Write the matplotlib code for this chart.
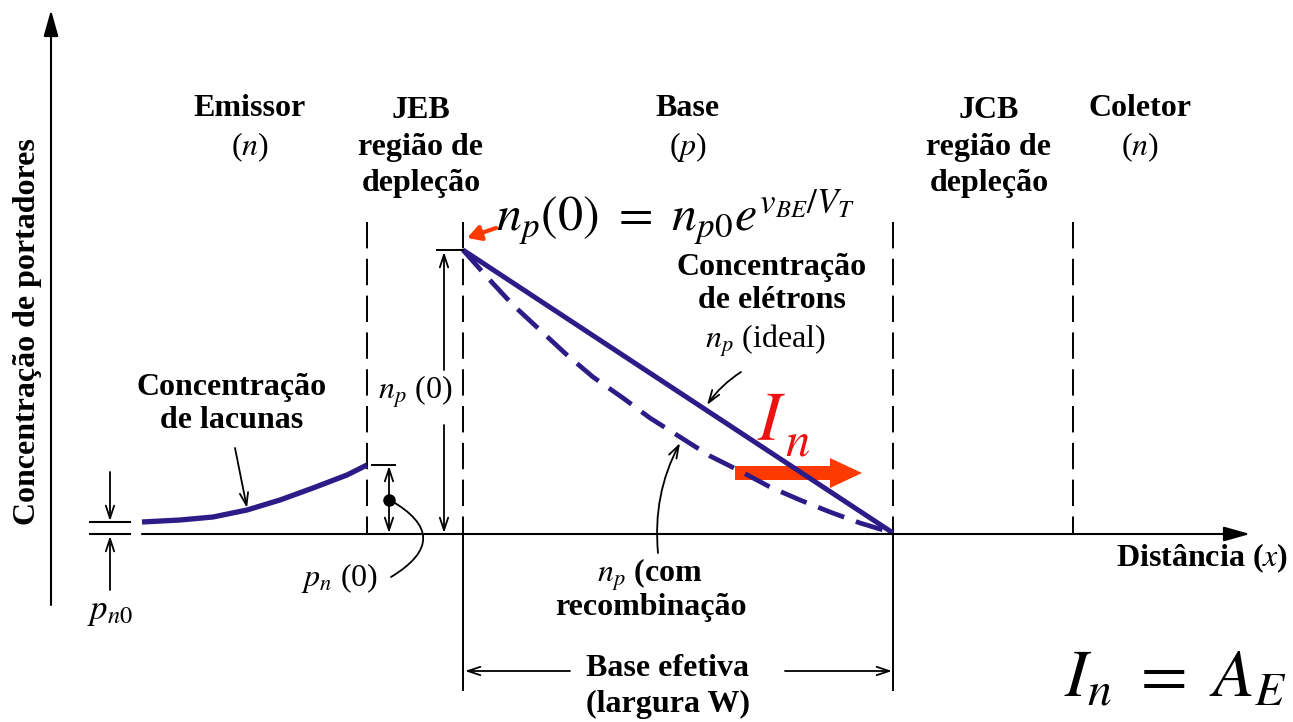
import numpy as np
import matplotlib.pyplot as plt

plt.rcParams['font.family'] = ['Liberation Serif', 'DejaVu Serif']
plt.rcParams['mathtext.fontset'] = 'stix'
plt.rcParams['lines.scale_dashes'] = False

# Carrier profiles (x in px along the device, y in px, top = 0)
hole_x = [142, 180, 213, 247, 280, 313, 347, 367]
hole_y = [522, 520, 517, 510, 500, 488, 475, 465]

ideal_x = [463, 893]
ideal_y = [250, 533]

recomb_x = [463, 487, 513, 540, 567, 593, 623, 650, 680, 710, 740, 770, 800,
            830, 860, 893]
recomb_y = [250, 277, 305, 330, 355, 377, 398, 418, 437, 456, 471, 487, 500,
            512, 523, 533]

# Region boundaries
jeb_left, jeb_right = 367, 463
jcb_left, jcb_right = 893, 1073
axis_y = 534
top_y = 222

navy = '#2d1b87'
red = '#ff3a00'

fig = plt.figure(figsize=(12.93, 7.22), dpi=100)
ax = fig.add_axes([0, 0, 1, 1])
ax.set_xlim(0, 1293)
ax.set_ylim(722, 0)
ax.axis('off')

# axes
ax.annotate('', xy=(51, 10), xytext=(51, 605),
            arrowprops=dict(arrowstyle='-|>,head_length=1.6,head_width=0.45',
                            color='black', lw=1.5, shrinkA=0, shrinkB=0))
ax.annotate('', xy=(1250, axis_y), xytext=(142, axis_y),
            arrowprops=dict(arrowstyle='-|>,head_length=1.6,head_width=0.45',
                            color='black', lw=1.5, shrinkA=0, shrinkB=0))
ax.plot([90, 130], [axis_y, axis_y], color='black', lw=1.5)
ax.plot([90, 130], [hole_y[0], hole_y[0]], color='black', lw=1.5)

# boundaries: dashed above the axis, solid below for the base edges
dash = (0, (19, 7.5))
for xb in [jeb_left, jeb_right, jcb_left, jcb_right]:
    ax.plot([xb, xb], [top_y, axis_y], color='black', lw=1.4, linestyle=dash)
for xb in [jeb_right, jcb_left]:
    ax.plot([xb, xb], [axis_y, 690], color='black', lw=1.4)

# carrier curves
ax.plot(hole_x, hole_y, color=navy, lw=3.8, solid_capstyle='butt',
        solid_joinstyle='round')
ax.plot(ideal_x, ideal_y, color=navy, lw=3.6, solid_capstyle='butt')
ax.plot(recomb_x, recomb_y, color=navy, lw=3.4, linestyle=(0, (20, 9)),
        dash_joinstyle='round')

# I_n arrow
ax.arrow(735, 473, 127, 0, width=14, head_width=30, head_length=32,
         length_includes_head=True, color=red, lw=0)
ax.text(757, 440, r'$I$', color='#ee1111', fontsize=50, ha='left', va='baseline')
ax.text(785, 456, r'$n$', color='#ee1111', fontsize=35, ha='left', va='baseline')

# n_p(0) marker
ax.plot([437, jeb_right], [ideal_y[0], ideal_y[0]], color='black', lw=1.4)
open_head = dict(arrowstyle='->,head_length=0.9,head_width=0.3', color='black',
                 lw=1.3, shrinkA=0, shrinkB=0)
ax.annotate('', xy=(444, ideal_y[0] + 2), xytext=(444, 370), arrowprops=open_head)
ax.annotate('', xy=(444, axis_y - 1), xytext=(444, 425), arrowprops=open_head)
ax.text(415, 392, r'$n_p$ (0)', fontsize=23, ha='center', va='center')
ax.annotate('', xy=(467, 238), xytext=(496, 228),
            arrowprops=dict(arrowstyle='-|>,head_length=0.8,head_width=0.45',
                            color=red, lw=3, shrinkA=0, shrinkB=0))

# p_n(0) marker
ax.plot([372, 395], [hole_y[-1], hole_y[-1]], color='black', lw=1.4)
ax.annotate('', xy=(389, hole_y[-1] + 1), xytext=(389, axis_y - 1),
            arrowprops=dict(arrowstyle='<->,head_length=0.9,head_width=0.3',
                            color='black', lw=1.3, shrinkA=0, shrinkB=0))
ax.plot([389], [500], 'o', color='black', ms=8)
ax.annotate('', xy=(391, 577), xytext=(390, 500),
            arrowprops=dict(arrowstyle='-', color='black', lw=1.3,
                            connectionstyle='arc3,rad=-0.85', shrinkA=0, shrinkB=0))
ax.text(340, 578, r'$p_n$ (0)', fontsize=23, ha='center', va='center')

# p_n0 marker
ax.annotate('', xy=(110, hole_y[0] - 1), xytext=(110, 472), arrowprops=open_head)
ax.annotate('', xy=(110, axis_y + 2), xytext=(110, 590), arrowprops=open_head)
ax.text(110, 612, r'$p_{n0}$', fontsize=25, ha='center', va='center')

# base width dimension
ax.annotate('', xy=(jeb_right + 2, 671), xytext=(570, 671), arrowprops=open_head)
ax.annotate('', xy=(jcb_left - 1, 671), xytext=(785, 671), arrowprops=open_head)

# leaders to the curves
ax.annotate('', xy=(247, 508), xytext=(235, 448), arrowprops=open_head)
ax.annotate('', xy=(707, 405), xytext=(741, 372),
            arrowprops=dict(open_head, connectionstyle='arc3,rad=0.1'))
ax.annotate('', xy=(680, 443), xytext=(658, 553),
            arrowprops=dict(open_head, connectionstyle='arc3,rad=-0.15'))

# region titles
bold = dict(fontsize=23, fontweight='bold', ha='center', va='center')
ax.text(250, 108, 'Emissor', **bold)
ax.text(250, 147, '($n$)', fontsize=23, ha='center', va='center')
ax.text(421, 111, 'JEB', **bold)
ax.text(421, 147, 'região de', **bold)
ax.text(421, 183, 'depleção', **bold)
ax.text(688, 108, 'Base', **bold)
ax.text(688, 147, '($p$)', fontsize=23, ha='center', va='center')
ax.text(989, 111, 'JCB', **bold)
ax.text(989, 147, 'região de', **bold)
ax.text(989, 183, 'depleção', **bold)
ax.text(1140, 108, 'Coletor', **bold)
ax.text(1140, 147, '($n$)', fontsize=23, ha='center', va='center')

ax.text(28, 332, 'Concentração de portadores', rotation=90, **bold)

ax.text(496, 217, r'$n_p(0)\ =\ n_{p0}e^{v_{BE}/V_T}$', fontsize=36,
        ha='left', va='center')
ax.text(772, 268, 'Concentração', **bold)
ax.text(772, 301, 'de elétrons', **bold)
ax.text(765, 341, r'$n_p$ (ideal)', fontsize=23, ha='center', va='center')

ax.text(232, 388, 'Concentração', **bold)
ax.text(232, 421, 'de lacunas', **bold)

ax.text(650, 575, r'$n_p$ (com', **bold)
ax.text(651, 607, 'recombinação', **bold)
ax.text(668, 668, 'Base efetiva', **bold)
ax.text(668, 704, '(largura W)', **bold)

ax.text(1288, 558, r'Distância ($x$)', fontsize=23, fontweight='bold',
        ha='right', va='center')

ax.text(1064, 697, r'$I_n\ =\ A_E$', fontsize=49, ha='left', va='baseline')

fig.savefig('out.png', dpi=100)
